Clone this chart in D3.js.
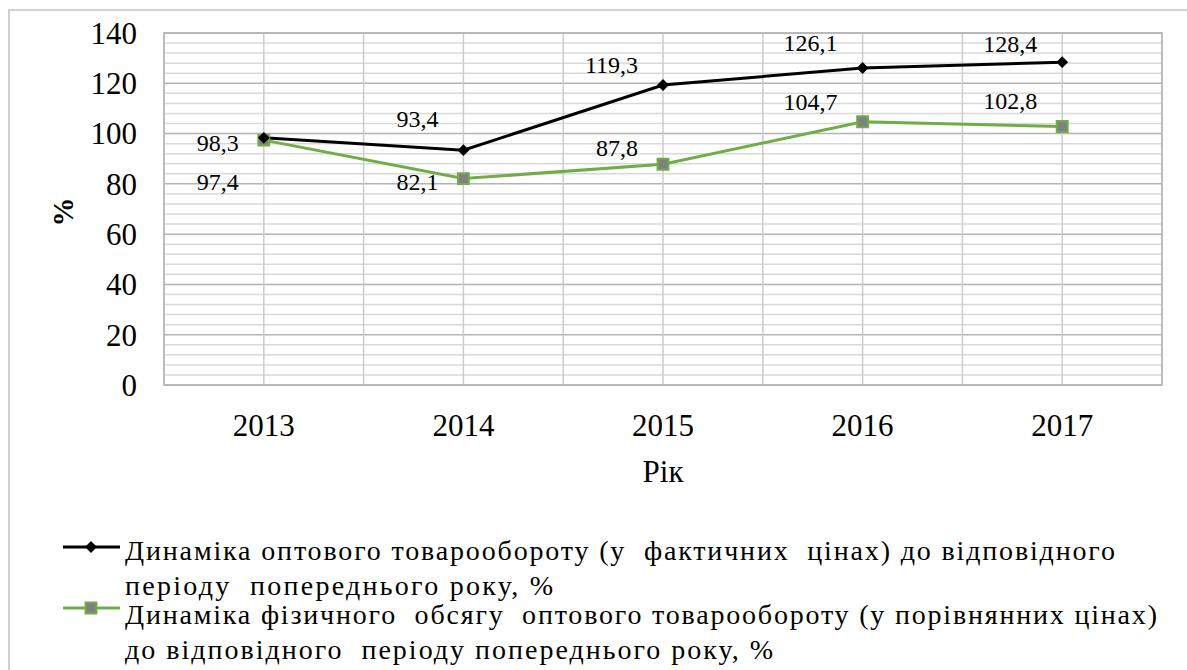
<!DOCTYPE html>
<html>
<head>
<meta charset="utf-8">
<script src="https://cdn.jsdelivr.net/npm/d3@7"></script>
</head>
<body style="margin:0">
<svg id="s" width="1187" height="670" style="font-family: 'Liberation Serif'"></svg>
<script>
// data
var years = ["2013", "2014", "2015", "2016", "2017"];
var turnover = [98.3, 93.4, 119.3, 126.1, 128.4];     // у фактичних цінах
var physVolume = [97.4, 82.1, 87.8, 104.7, 102.8];   // у порівнянних цінах
var yTicks = [0, 20, 40, 60, 80, 100, 120, 140];
var legendLines1 = ["Динаміка оптового товарообороту (у  фактичних  цінах) до відповідного",
                    "періоду  попереднього року, %"];
var legendLines2 = ["Динаміка фізичного  обсягу  оптового товарообороту (у порівнянних цінах)",
                    "до відповідного  періоду попереднього року, %"];

// hand-placed layout: label nudges (px, vertical) and legend line widths
var turnoverLabelDy = [5, -32, -20, -25, -19];
var physLabelDy = [41, 3, -17, -20, -26];
var legendWidths1 = [990, 428];
var legendWidths2 = [1032, 648];

var svg = d3.select("#s");
var plot = { left: 164, right: 1162, top: 33, bottom: 385 };
var green = "#70ad47";

function txt(sel, size) {
  return sel.attr("font-size", size)
    .attr("font-family", "Liberation Serif");
}

// outer frame
svg.append("path")
  .attr("d", "M9,670 V10 H1187")
  .attr("fill", "none")
  .attr("stroke", "#d0d0d0")
  .attr("stroke-width", 2);

var x = d3.scaleBand().domain(years).range([plot.left, plot.right]).padding(0);
var y = d3.scaleLinear().domain([0, 140]).range([plot.bottom, plot.top]);
var cx = d => x(d) + x.bandwidth() / 2;

var grid = svg.append("g");

// minor horizontal gridlines, every 4
grid.selectAll("line.minor")
  .data(d3.range(0, 141, 4).filter(v => v % 20 != 0))
  .enter().append("line")
    .attr("x1", plot.left).attr("x2", plot.right)
    .attr("y1", d => y(d)).attr("y2", d => y(d))
    .attr("stroke", "#d9d9d9").attr("stroke-width", 1.5);

// major horizontal gridlines
grid.selectAll("line.major")
  .data(yTicks)
  .enter().append("line")
    .attr("x1", plot.left).attr("x2", plot.right)
    .attr("y1", d => y(d)).attr("y2", d => y(d))
    .attr("stroke", "#b4b4b4").attr("stroke-width", 1.5);

// vertical gridlines at band edges and centres
var vLines = [];
years.forEach(function(yr) { vLines.push(x(yr)); vLines.push(cx(yr)); });
vLines.push(plot.right);
grid.selectAll("line.v")
  .data(vLines)
  .enter().append("line")
    .attr("x1", d => d).attr("x2", d => d)
    .attr("y1", plot.top).attr("y2", plot.bottom)
    .attr("stroke", "#cccccc").attr("stroke-width", 1.5);

// plot border
svg.append("rect")
  .attr("x", plot.left).attr("y", plot.top)
  .attr("width", plot.right - plot.left).attr("height", plot.bottom - plot.top)
  .attr("fill", "none").attr("stroke", "#b4b4b4").attr("stroke-width", 1.5);

// y axis labels
txt(svg.append("g").selectAll("text")
  .data(yTicks)
  .enter().append("text")
    .attr("x", 137)
    .attr("y", d => y(d))
    .attr("dy", "0.35em")
    .attr("text-anchor", "end")
    .text(d => d), 31);

// x axis labels
txt(svg.append("g").selectAll("text")
  .data(years)
  .enter().append("text")
    .attr("x", d => cx(d))
    .attr("y", 425)
    .attr("dy", "0.35em")
    .attr("text-anchor", "middle")
    .text(d => d), 31);

// axis titles
txt(svg.append("text")
  .attr("x", (plot.left + plot.right) / 2)
  .attr("y", 471)
  .attr("dy", "0.35em")
  .attr("text-anchor", "middle")
  .text("Рік"), 31);

txt(svg.append("text")
  .attr("transform", "translate(63,212) rotate(-90)")
  .attr("dy", "0.35em")
  .attr("text-anchor", "middle")
  .attr("font-weight", "bold")
  .text("%"), 29);

var line = d3.line().x((d, i) => cx(years[i])).y(d => y(d));

// green series
svg.append("path")
  .datum(physVolume)
  .attr("d", line)
  .attr("fill", "none")
  .attr("stroke", green)
  .attr("stroke-width", 3);

// black series
svg.append("path")
  .datum(turnover)
  .attr("d", line)
  .attr("fill", "none")
  .attr("stroke", "#000")
  .attr("stroke-width", 3);

var diamond = d3.symbol().type(d3.symbolDiamond2).size(90);
var square = d3.symbol().type(d3.symbolSquare2).size(150);

svg.append("g").selectAll("path")
  .data(physVolume)
  .enter().append("path")
    .attr("d", square)
    .attr("transform", (d, i) => `translate(${cx(years[i])},${y(d)})`)
    .attr("fill", "#808080")
    .attr("stroke", green)
    .attr("stroke-width", 2);

svg.append("g").selectAll("path")
  .data(turnover)
  .enter().append("path")
    .attr("d", diamond)
    .attr("transform", (d, i) => `translate(${cx(years[i])},${y(d)})`)
    .attr("fill", "#000");

// data labels
function addLabels(values, dys) {
  txt(svg.append("g").selectAll("text")
    .data(values)
    .enter().append("text")
      .attr("x", (d, i) => cx(years[i]) - 25)
      .attr("y", (d, i) => y(d) + dys[i])
      .attr("dy", "0.35em")
      .attr("text-anchor", "end")
      .text(d => d3.format(".1f")(d).replace(".", ",")), 24);
}
addLabels(turnover, turnoverLabelDy);
addLabels(physVolume, physLabelDy);

// legend
var legend = svg.append("g");
legend.append("line")
  .attr("x1", 63).attr("x2", 120).attr("y1", 547).attr("y2", 547)
  .attr("stroke", "#000").attr("stroke-width", 3);
legend.append("path")
  .attr("d", diamond)
  .attr("transform", "translate(91,547)")
  .attr("fill", "#000");
legend.append("line")
  .attr("x1", 63).attr("x2", 120).attr("y1", 608).attr("y2", 608)
  .attr("stroke", green).attr("stroke-width", 3);
legend.append("path")
  .attr("d", square)
  .attr("transform", "translate(91,608)")
  .attr("fill", "#808080")
  .attr("stroke", green)
  .attr("stroke-width", 2);

function legendText(lines, widths, y0) {
  txt(legend.append("g").selectAll("text")
    .data(lines)
    .enter().append("text")
      .attr("x", 125)
      .attr("y", (d, i) => y0 + i * 35)
      .attr("dy", "0.35em")
      .attr("textLength", (d, i) => widths[i])
      .attr("lengthAdjust", "spacing")
      .style("white-space", "pre")
      .text(d => d), 28);
}
legendText(legendLines1, legendWidths1, 550);
legendText(legendLines2, legendWidths2, 614);
</script>
</body>
</html>
